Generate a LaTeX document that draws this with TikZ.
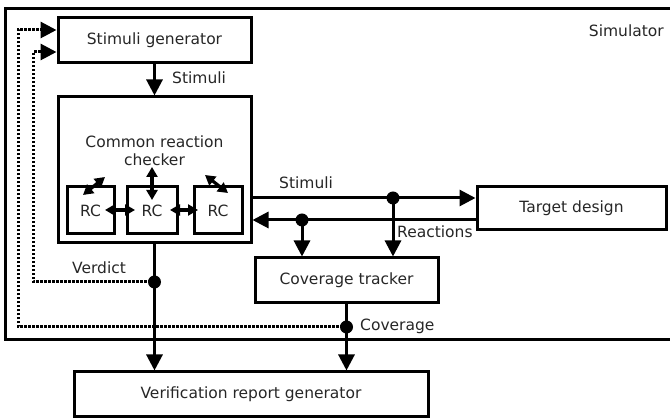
\documentclass[tikz,border=0pt]{standalone}
\usepackage{fontspec}
\setmainfont{DejaVu Sans}
\usetikzlibrary{arrows.meta}
\begin{document}
\begin{tikzpicture}[x=1pt,y=-1pt,
  box/.style={draw,line width=3pt,minimum width=#1,inner sep=0pt,font=\fontsize{15.5}{18}\selectfont,text=black!85},
  txt/.style={font=\fontsize{15.5}{18}\selectfont,inner sep=0pt,text=black!85},
  arr/.style={line width=3pt,-{Triangle[length=16pt,width=16pt]}},
  rcarr/.style={line width=3.2pt,{Triangle[length=10pt,width=11pt]}-{Triangle[length=10pt,width=11pt]}},
  dotl/.style={line width=3pt,dash pattern=on 2.4pt off 1.6pt},
  dotarr/.style={dotl,-{Triangle[length=16pt,width=16pt]}},
  jdot/.style={circle,fill,inner sep=0pt,minimum size=13pt}]
\useasboundingbox (0,0) rectangle (670,419);
% simulator
\draw[line width=3pt] (675,9) -- (5,9) -- (5,340) -- (675,340);
\node[txt,anchor=east] (simlbl) at (664,31) {Simulator};
% boxes
\node[box=193pt,minimum height=45pt] (sg) at (154.5,40.5) {Stimuli generator};
\node[box=193pt,minimum height=146pt] (crc) at (154.5,170) {};
\node[txt,align=center] (crctxt) at (154.5,151) {Common reaction\\checker};
\node[box=47pt,minimum height=47pt] (rc1) at (90.5,210.5) {RC};
\node[box=50pt,minimum height=47pt] (rc2) at (152,210.5) {RC};
\node[box=48pt,minimum height=47pt] (rc3) at (218,210.5) {RC};
\node[box=189pt,minimum height=43pt] (td) at (571.5,208.5) {Target design};
\node[box=183pt,minimum height=45pt] (ct) at (346.5,280.5) {Coverage tracker};
\node[box=354pt,minimum height=45pt] (vrg) at (251,394.5) {Verification report generator};
% junctions
\coordinate (j1) at (393,198);
\coordinate (j2) at (302,220);
\coordinate (j3) at (154.5,282);
\coordinate (j4) at (346.5,327);
\coordinate (d1a) at (33.5,282);
\coordinate (d1b) at (33.5,52);
\coordinate (d2a) at (18,327);
\coordinate (d2b) at (18,30);
% stimuli to checker
\draw[arr] (sg.south) -- (crc.north);
\node[txt,anchor=west] (stl1) at (172,78) {Stimuli};
% stimuli to target
\draw[arr] (crc.east |- j1) -- (td.west |- j1);
\node[txt,anchor=west] (stl2) at (279,183) {Stimuli};
\draw[arr] (td.west |- j2) -- (crc.east |- j2);
\node[txt,anchor=west] (rlbl) at (397,232) {Reactions};
\draw[arr] (j1) -- (ct.north -| j1);
\draw[arr] (j2) -- (ct.north -| j2);
\node[jdot] at (j1) {};
\node[jdot] at (j2) {};
% verdict and coverage
\draw[arr] (crc.south) -- (vrg.north -| crc.south);
\draw[arr] (ct.south) -- (vrg.north -| ct.south);
\node[txt,anchor=west] (vlbl) at (72,268) {Verdict};
\node[txt,anchor=west] (clbl) at (360,326) {Coverage};
% dotted feedback
\draw[dotarr] (j3) -- (d1a) -- (d1b) -- (sg.west |- d1b);
\draw[dotarr] (j4) -- (d2a) -- (d2b) -- (sg.west |- d2b);
\node[jdot] at (j3) {};
\node[jdot] at (j4) {};
% RC arrows
\draw[rcarr] (105,210) -- (135,210);
\draw[rcarr] (170,210) -- (198,210);
\draw[rcarr] (83,195) -- (105,177);
\draw[rcarr] (152,167) -- (152,200);
\draw[rcarr] (205,175) -- (228,193);
\end{tikzpicture}
\end{document}
